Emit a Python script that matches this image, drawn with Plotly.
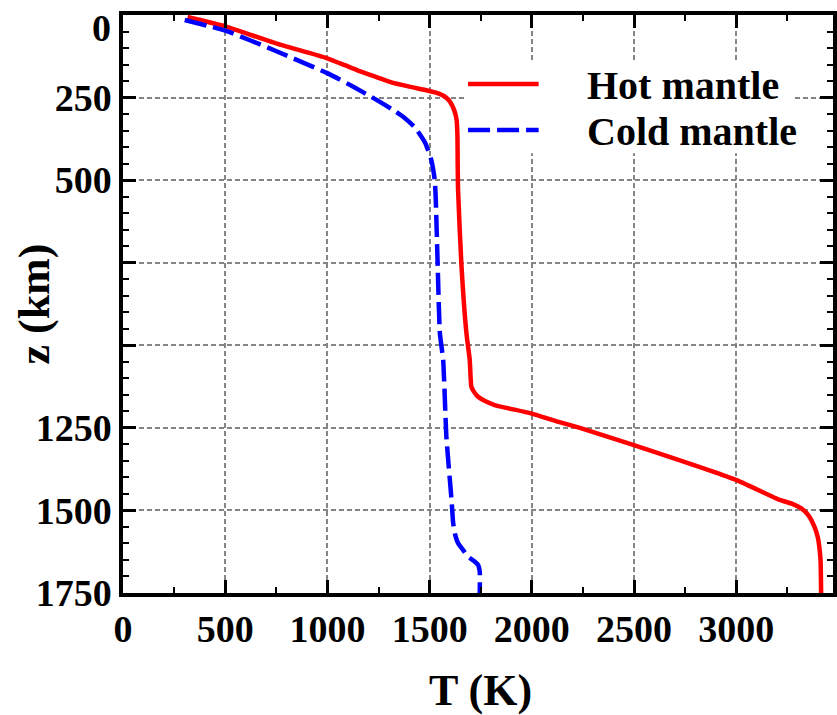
import plotly.graph_objects as go

# Temperature profiles T(z) for the two mantle scenarios
z_hot = [6, 35, 86, 131, 152, 169, 188, 204, 217, 227, 237, 248, 263, 288, 318, 368,
         439, 530, 752, 964, 1044, 1125, 1141, 1156, 1169, 1181, 1206, 1231, 1251,
         1302, 1408, 1468, 1480, 1494, 1514, 1549, 1580, 1610, 1650, 1750]
T_hot = [316, 504, 748, 999, 1085, 1153, 1240, 1313, 1401, 1479, 1542, 1576, 1600,
         1620, 1632, 1636, 1637, 1639, 1655, 1680, 1696, 1704, 1717, 1737, 1771,
         1818, 1996, 2126, 2239, 2499, 3001, 3212, 3274, 3318, 3352, 3382, 3398,
         3406, 3412, 3415]

z_cold = [15, 48, 109, 176, 218, 257, 288, 309, 342, 388, 439, 500, 560, 751, 963,
          1044, 1278, 1468, 1538, 1574, 1599, 1620, 1640, 1653, 1665, 1686, 1750]
T_cold = [302, 504, 748, 999, 1129, 1240, 1323, 1372, 1430, 1479, 1508, 1525, 1530,
          1539, 1550, 1566, 1582, 1607, 1615, 1625, 1639, 1664, 1688, 1717, 1737,
          1745, 1745]

series_names = ["Hot mantle", "Cold mantle"]

T_ticks = [0, 500, 1000, 1500, 2000, 2500, 3000]
T_tick_labels = ["0", "500", "1000", "1500", "2000", "2500", "3000"]
z_ticks = [0, 250, 500, 750, 1000, 1250, 1500, 1750]
z_tick_labels = ["0", "250", "500", "", "", "1250", "1500", "1750"]

FONT = "Liberation Serif"
RED = "#ff0000"
BLUE = "#0000ff"
GRID = "#858585"
TICK_SIZE = 38

fig = go.Figure()
fig.add_trace(go.Scatter(x=T_hot, y=z_hot, mode="lines", name=series_names[0],
                         line=dict(color=RED, width=4.5, shape="spline", smoothing=0.5)))
fig.add_trace(go.Scatter(x=T_cold, y=z_cold, mode="lines", name=series_names[1],
                         line=dict(color=BLUE, width=4.5, dash="22px,7px",
                                   shape="spline", smoothing=0.5)))

axis_common = dict(
    showline=True, linecolor="black", linewidth=3.5, mirror="ticks",
    ticks="inside", ticklen=13, tickwidth=3, tickcolor="black",
    showgrid=True, gridcolor=GRID, gridwidth=1.5, griddash="5px,3px",
    zeroline=False,
    tickfont=dict(family=FONT, size=TICK_SIZE, color="black", weight="bold"),
)

fig.update_xaxes(
    range=[0, 3473], tickmode="array", tickvals=T_ticks, ticktext=T_tick_labels,
    minor=dict(dtick=250, ticks="inside", ticklen=6, tickwidth=1.5,
               tickcolor="black", showgrid=False),
    **axis_common,
)
# the top-most depth label sits just below the frame, drawn separately
fig.update_yaxes(
    range=[1750, 0], tickmode="array", tickvals=z_ticks,
    ticktext=[""] + z_tick_labels[1:],
    minor=dict(dtick=50, ticks="inside", ticklen=6, tickwidth=1.5,
               tickcolor="black", showgrid=False),
    **axis_common,
)

annotations = [
    dict(text=z_tick_labels[0], x=0, y=z_ticks[0], xref="paper", yref="y",
         xanchor="right", yanchor="middle", xshift=-10, yshift=-13, showarrow=False,
         font=dict(family=FONT, size=TICK_SIZE, color="black", weight="bold")),
    dict(text="T (K)", x=0.504, y=-0.168, xref="paper", yref="paper",
         xanchor="center", yanchor="middle", showarrow=False,
         font=dict(family=FONT, size=44, color="black", weight="bold")),
    dict(text="z (km)", x=-0.126, y=0.5, xref="paper", yref="paper",
         xanchor="center", yanchor="middle", textangle=-90, showarrow=False,
         font=dict(family=FONT, size=44, color="black", weight="bold")),
]

# legend: white panel, line samples and labels
legend_rows = [(0.8806, RED, "solid"), (0.801, BLUE, "22px,7px")]
shapes = [dict(type="rect", xref="paper", yref="paper", x0=0.4832, x1=0.944,
               y0=0.761, y1=0.922, fillcolor="white", line=dict(width=0),
               layer="above")]
for (yp, col, dash), name in zip(legend_rows, series_names):
    shapes.append(dict(type="line", xref="paper", yref="paper", x0=0.486, x1=0.5854,
                       y0=yp, y1=yp, line=dict(color=col, width=4.5, dash=dash),
                       layer="above"))
    annotations.append(dict(text=name, x=0.6513, y=yp - 0.002, xref="paper",
                            yref="paper", xanchor="left", yanchor="middle",
                            showarrow=False,
                            font=dict(family=FONT, size=40, color="black",
                                      weight="bold")))

fig.update_layout(
    width=837, height=715,
    margin=dict(l=123, r=0, t=15, b=122),
    paper_bgcolor="white", plot_bgcolor="white",
    showlegend=False,
    shapes=shapes, annotations=annotations,
)

fig.write_html("out.html")
